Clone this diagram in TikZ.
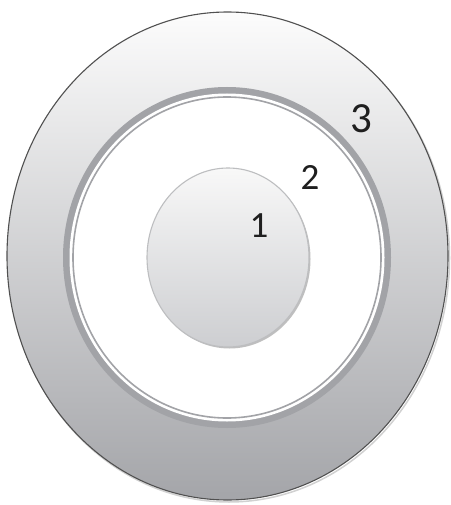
\documentclass[tikz,border=0pt]{standalone}
\usepackage{fontspec}
\setmainfont{Carlito}
\usetikzlibrary{calc}
\definecolor{ringgray}{HTML}{A2A3A7}
\definecolor{outerline}{HTML}{505050}
\definecolor{outerbot}{HTML}{A4A5A9}
\definecolor{outermid}{HTML}{DCDDDF}
\definecolor{outertop}{HTML}{FCFCFC}
\definecolor{innertop}{HTML}{F8F8F8}
\definecolor{innerbot}{HTML}{CDCED1}
\definecolor{innerline}{HTML}{BDBEC0}
\begin{document}
\begin{tikzpicture}[x=1pt,y=-1pt,
  lbl/.style={font=\fontsize{37}{37}\selectfont, text=black!88, inner sep=0pt},
  biglbl/.style={lbl, font=\fontsize{43}{43}\selectfont}]
\useasboundingbox (0,0) rectangle (450,505);
\fill[white] (0,0) rectangle (450,505);
% outer ellipse
\coordinate (oc) at (227.5,256);
\draw[black!18, line width=1.5pt] ($(oc)+(1.5,2)$) ellipse [x radius=220.5, y radius=244];
\shade[top color=outertop, middle color=outermid, bottom color=outerbot, draw=outerline, line width=1.1pt]
  (oc) ellipse [x radius=220.5, y radius=244];
% middle ring
\coordinate (mc) at (227,257.5);
\fill[ringgray] (mc) ellipse [x radius=164, y radius=170.5];
\fill[white] (mc) ellipse [x radius=157.5, y radius=164];
\draw[ringgray, line width=1.6pt] (mc) ellipse [x radius=154, y radius=160.5];
% inner circle
\coordinate (ic) at (228,257.5);
\fill[black!25] ($(ic)+(1.5,1.5)$) ellipse [x radius=81, y radius=89.5];
\shade[top color=innertop, bottom color=innerbot, draw=innerline, line width=1.1pt]
  (ic) ellipse [x radius=81, y radius=89.5];
% labels
\node[lbl] (l1) at (259,226) {1};
\node[lbl] (l2) at (310,177) {2};
\node[biglbl] (l3) at (361,119) {3};
\end{tikzpicture}
\end{document}
